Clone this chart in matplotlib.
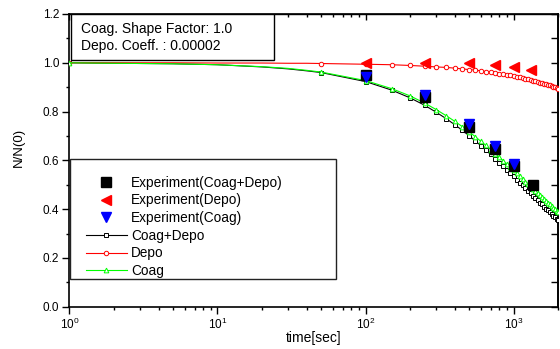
import matplotlib
matplotlib.use('Agg')
import matplotlib.pyplot as plt
from matplotlib.patches import Rectangle
from matplotlib.ticker import MultipleLocator, LogLocator, NullFormatter

plt.rcParams['font.family'] = ['Liberation Sans', 'DejaVu Sans']
plt.rcParams['mathtext.fontset'] = 'custom'
plt.rcParams['mathtext.rm'] = 'Liberation Sans'

# ---------------- data ----------------
t_model = [1, 2, 5, 10, 20, 30, 40, 50, 100, 150, 200, 250, 300, 350, 400, 450,
           500, 550, 600, 650, 700, 750, 800, 850, 900, 950, 1000, 1050, 1100,
           1150, 1200, 1250, 1300, 1350, 1400, 1450, 1500, 1550, 1600, 1650,
           1700, 1750, 1800, 1850, 1900, 1950, 2000]

coag_depo = [1.000, 0.998, 0.996, 0.992, 0.983, 0.975, 0.967,
             0.960, 0.923, 0.888, 0.856, 0.826, 0.797, 0.771, 0.746, 0.723,
             0.701, 0.680, 0.660, 0.641, 0.624, 0.607, 0.591, 0.575, 0.561,
             0.547, 0.534, 0.521, 0.509, 0.497, 0.486, 0.475, 0.465, 0.455,
             0.445, 0.436, 0.427, 0.419, 0.410, 0.402, 0.395, 0.387, 0.380,
             0.373, 0.366, 0.360, 0.354]

depo = [1.000, 1.000, 1.000, 0.999, 0.999, 0.998, 0.998,
        0.997, 0.994, 0.992, 0.989, 0.986, 0.983, 0.981, 0.978, 0.975,
        0.972, 0.970, 0.967, 0.964, 0.962, 0.959, 0.956, 0.954, 0.951,
        0.948, 0.946, 0.943, 0.940, 0.938, 0.935, 0.932, 0.930, 0.927,
        0.925, 0.922, 0.919, 0.917, 0.914, 0.912, 0.909, 0.907, 0.904,
        0.902, 0.899, 0.897, 0.894]

coag = [1.000, 0.998, 0.996, 0.992, 0.984, 0.977, 0.969,
        0.962, 0.927, 0.894, 0.864, 0.835, 0.808, 0.783, 0.760, 0.738,
        0.717, 0.697, 0.678, 0.661, 0.644, 0.628, 0.613, 0.598, 0.585,
        0.571, 0.559, 0.547, 0.535, 0.524, 0.513, 0.503, 0.493, 0.484,
        0.475, 0.466, 0.458, 0.450, 0.442, 0.434, 0.427, 0.420, 0.413,
        0.406, 0.400, 0.394, 0.388]

t_exp_cd = [100, 250, 500, 750, 1000, 1350]
exp_cd = [0.951, 0.860, 0.738, 0.648, 0.575, 0.500]

t_exp_depo = [100, 250, 500, 750, 1000, 1300]
exp_depo = [1.001, 1.000, 1.000, 0.990, 0.982, 0.972]

t_exp_coag = [100, 250, 500, 750, 1000]
exp_coag = [0.942, 0.866, 0.748, 0.658, 0.587]

labels = ['Experiment(Coag+Depo)', 'Experiment(Depo)', 'Experiment(Coag)',
          'Coag+Depo', 'Depo', 'Coag']
note_lines = ['Coag. Shape Factor: 1.0', 'Depo. Coeff. : 0.00002']

# ---------------- figure ----------------
fig = plt.figure(figsize=(5.6, 3.49), dpi=100)
ax = fig.add_axes([0.1238, 0.1212, 0.8732, 0.8387])

mk_every = [i for i, t in enumerate(t_model) if t == 1 or t % 50 == 0]

l_cd, = ax.plot(t_model, coag_depo, color='black', lw=0.8, marker='s', ms=3.0,
                mfc='white', mec='black', mew=0.7, markevery=mk_every, zorder=3)
l_d, = ax.plot(t_model, depo, color='red', lw=0.8, marker='o', ms=3.2,
               mfc='white', mec='red', mew=0.7, markevery=mk_every, zorder=3)
l_c, = ax.plot(t_model, coag, color='#00ff00', lw=0.8, marker='^', ms=3.4,
               mfc='white', mec='#00ff00', mew=0.7, markevery=mk_every, zorder=4)

e_cd, = ax.plot(t_exp_cd, exp_cd, ls='none', marker='s', ms=6.5,
                color='black', zorder=5)
e_d, = ax.plot(t_exp_depo, exp_depo, ls='none', marker='<', ms=7.5,
               color='red', mec='red', zorder=5)
e_c, = ax.plot(t_exp_coag, exp_coag, ls='none', marker='v', ms=7.5,
               color='blue', mec='blue', zorder=6)

ax.set_xscale('log')
ax.set_xlim(1, 2000)
ax.set_ylim(0.0, 1.2)
ax.yaxis.set_major_locator(MultipleLocator(0.2))
ax.yaxis.set_minor_locator(MultipleLocator(0.1))
ax.yaxis.set_major_formatter(matplotlib.ticker.FormatStrFormatter('%.1f'))
ax.xaxis.set_major_locator(LogLocator(base=10, numticks=10))
ax.xaxis.set_minor_locator(LogLocator(base=10, subs=range(2, 10), numticks=20))
ax.xaxis.set_minor_formatter(NullFormatter())

for s in ax.spines.values():
    s.set_linewidth(1.2)

ax.tick_params(which='major', direction='out', length=4.8, width=1.0,
               labelsize=8.5, top=False, right=False, pad=2.5)
ax.tick_params(which='minor', direction='out', length=2.4, width=1.0,
               top=False, right=False)

secx = ax.secondary_xaxis('top')
secx.tick_params(which='major', direction='in', length=4.3, width=1.0, labeltop=False)
secx.tick_params(which='minor', direction='in', length=2.0, width=1.0)
secx.xaxis.set_major_formatter(NullFormatter())
secx.xaxis.set_minor_formatter(NullFormatter())
secx.spines['top'].set_linewidth(1.0)

secy = ax.secondary_yaxis('right')
secy.yaxis.set_major_locator(MultipleLocator(0.2))
secy.yaxis.set_minor_locator(MultipleLocator(0.1))
secy.tick_params(which='major', direction='in', length=4.8, width=1.0, labelright=False)
secy.tick_params(which='minor', direction='in', length=4.8, width=1.0)
secy.yaxis.set_major_formatter(NullFormatter())
secy.spines['right'].set_linewidth(1.2)

ax.set_xlabel('time[sec]', fontsize=10)
ax.set_ylabel('N/N(0)', fontsize=9.5)
ax.xaxis.set_label_coords(0.5, -0.082)
ax.yaxis.set_label_coords(-0.091, 0.544)

# annotation box
ax.add_patch(Rectangle((0.0035, 0.843), 0.4151, 0.157, transform=ax.transAxes,
                       facecolor='white', edgecolor='black', lw=1.0, zorder=8))
ax.text(0.024, 0.949, note_lines[0], transform=ax.transAxes, fontsize=10,
        va='center', ha='left', zorder=9)
ax.text(0.024, 0.891, note_lines[1], transform=ax.transAxes, fontsize=10,
        va='center', ha='left', zorder=9)

# legend frame + legend
ax.add_patch(Rectangle((0.0014, 0.0936), 0.5433, 0.411, transform=ax.transAxes,
                       facecolor='white', edgecolor='#222222', lw=1.0, zorder=7))
leg = ax.legend([e_cd, e_d, e_c, l_cd, l_d, l_c], labels, loc='upper left',
                bbox_to_anchor=(0.0335, 0.4476), frameon=False, fontsize=9.8,
                numpoints=1, handlelength=3.0, handletextpad=0.35,
                labelspacing=0.27, borderpad=0.0, borderaxespad=0.0)
leg.set_zorder(10)

fig.savefig('out.png', dpi=100)
